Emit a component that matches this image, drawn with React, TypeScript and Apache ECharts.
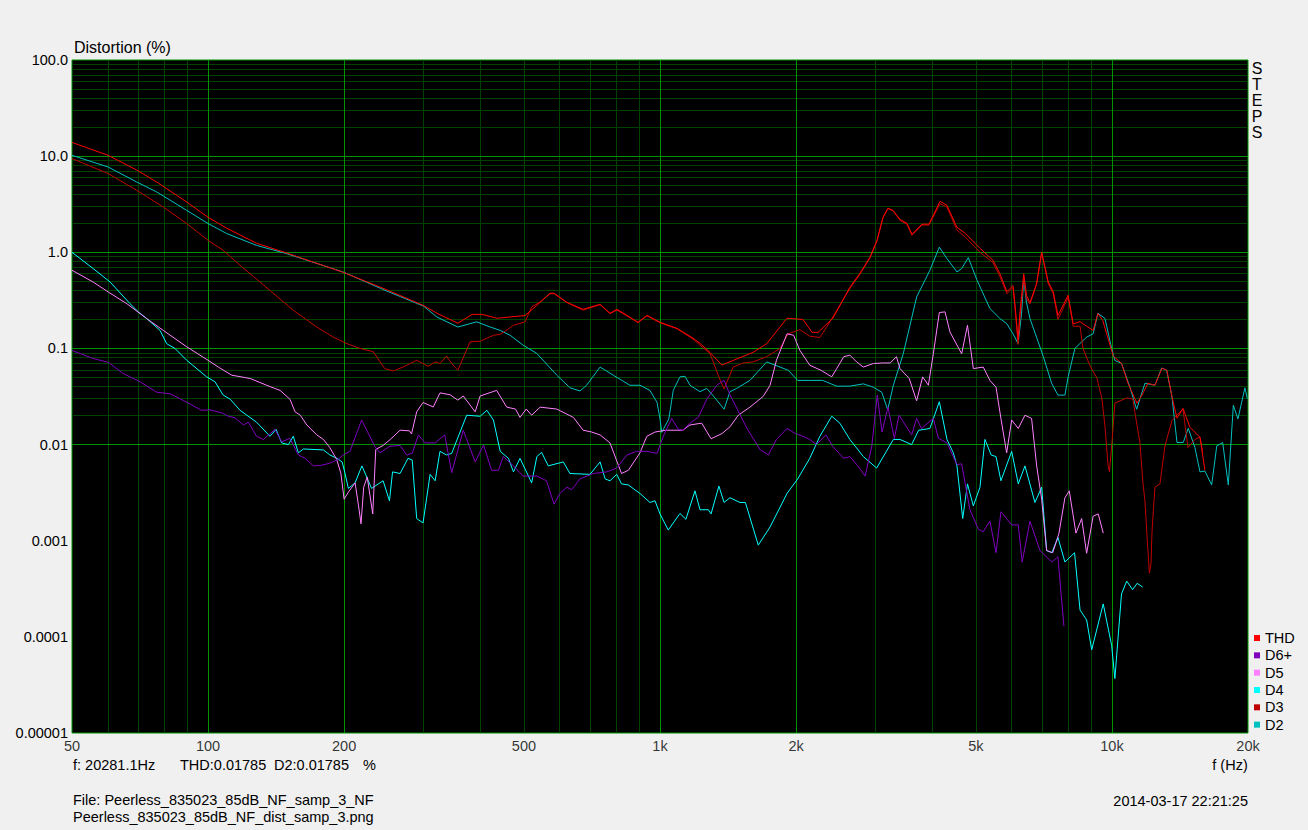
import React, { useEffect, useRef } from 'react';
import * as echarts from 'echarts';

type P = [number, number];

// ---------- data (frequency Hz, distortion %) ----------
const thd: P[] = [[50,13.9],[60.1,10.2],[69.7,7.13],[77.1,5.35],[89.9,3.31],[100,2.31],[110,1.78],[128,1.24],[150,0.976],[199,0.619],[244,0.422],[299,0.281],[321,0.232],[357,0.183],[384,0.226],[404,0.226],[436,0.206],[503,0.22],[534,0.281],[571,0.375],[583,0.375],[622,0.302],[676,0.255],[737,0.288],[775,0.232],[803,0.255],[845,0.221],[894,0.187],[936,0.221],[1000,0.187],[1090,0.162],[1183,0.128],[1226,0.113],[1290,0.091],[1371,0.067],[1451,0.075],[1606,0.091],[1722,0.112],[1910,0.206],[2072,0.2],[2170,0.147],[2237,0.147],[2413,0.206],[2631,0.433],[2770,0.605],[2914,0.887],[3020,1.33],[3114,2.31],[3195,2.87],[3277,2.73],[3396,2.2],[3520,2.0],[3610,1.54],[3798,1.96],[3936,1.96],[4166,3.39],[4315,3.08],[4540,1.82],[4730,1.58],[5105,1.1],[5455,0.826],[5650,0.6],[5855,0.39],[6040,0.45],[6100,0.29],[6200,0.123],[6255,0.232],[6380,0.6],[6470,0.357],[6585,0.3],[6810,0.47],[6990,1.0],[7110,0.7],[7230,0.49],[7415,0.39],[7595,0.22],[8000,0.357],[8210,0.18],[8500,0.19],[8790,0.17],[9085,0.154],[9310,0.23],[9540,0.196],[10070,0.083],[10500,0.07],[10850,0.0434],[11360,0.0269],[11650,0.0326],[12010,0.0434],[12450,0.0414],[12900,0.0621],[13230,0.0593],[13570,0.0318],[13930,0.0188],[14360,0.0238],[14880,0.0151],[15660,0.0119],[16060,0.0054]];

const d2: P[] = [[50,10.2],[60.1,7.71],[69.5,5.39],[77,4.24],[89.7,2.73],[100,1.99],[110,1.565],[128,1.18],[149,0.97],[199,0.624],[244,0.41],[300,0.275],[321,0.212],[357,0.167],[393,0.189],[421,0.167],[443,0.154],[466,0.137],[498,0.108],[534,0.0886],[591,0.0527],[632,0.039],[665,0.0361],[688,0.0414],[737,0.064],[788,0.0527],[858,0.0414],[903,0.0414],[950,0.0366],[985,0.0274],[1000,0.0185],[1009,0.0134],[1046,0.0185],[1070,0.0366],[1107,0.0506],[1136,0.0513],[1165,0.0414],[1226,0.0355],[1269,0.0384],[1323,0.0306],[1386,0.0233],[1428,0.0355],[1478,0.0384],[1581,0.0465],[1722,0.0724],[1843,0.064],[1922,0.0593],[2017,0.0465],[2145,0.0465],[2290,0.0465],[2460,0.0405],[2631,0.0405],[2818,0.0428],[2965,0.0395],[3095,0.035],[3190,0.023],[3283,0.0414],[3453,0.088],[3697,0.343],[3955,0.65],[4150,1.13],[4315,0.86],[4540,0.624],[4650,0.677],[4810,0.88],[5030,0.511],[5370,0.26],[5650,0.205],[5850,0.181],[6040,0.142],[6200,0.112],[6310,0.232],[6380,0.533],[6470,0.3],[6585,0.205],[7045,0.083],[7355,0.0434],[7595,0.0327],[7870,0.0327],[8000,0.0506],[8280,0.1],[8790,0.131],[9085,0.142],[9310,0.232],[9650,0.205],[9985,0.1],[10150,0.075],[10500,0.07],[10960,0.0394],[11340,0.0233],[11830,0.0434],[12450,0.0414],[12880,0.0626],[13210,0.0593],[13570,0.032],[13930,0.0105],[14380,0.0105],[14750,0.0148],[15260,0.0093],[15660,0.0052],[16060,0.0053],[16620,0.0038],[17060,0.0097],[17580,0.0105],[18090,0.0038],[18560,0.0256],[19000,0.0185],[19690,0.039],[19930,0.03]];

const d3: P[] = [[50,9.43],[60.1,6.59],[69.5,4.42],[79.6,2.96],[89.7,1.99],[100,1.33],[108,1.05],[117.7,0.732],[130.3,0.491],[154.4,0.249],[174,0.167],[189,0.1315],[203,0.112],[217,0.1],[232,0.0924],[246,0.0617],[257,0.0583],[270,0.064],[289.5,0.0753],[307,0.0652],[318,0.0724],[326,0.0697],[337,0.0834],[346,0.0697],[357,0.0593],[380,0.117],[400,0.119],[428,0.137],[443,0.14],[474,0.174],[503,0.189],[520,0.27],[543,0.305],[571,0.37],[583,0.37],[622,0.3],[676,0.25],[737,0.285],[775,0.23],[803,0.25],[845,0.218],[894,0.185],[936,0.218],[1000,0.185],[1090,0.16],[1183,0.125],[1226,0.108],[1290,0.0886],[1350,0.0505],[1386,0.038],[1452,0.064],[1527,0.0706],[1606,0.0724],[1722,0.082],[1843,0.1],[1922,0.142],[2040,0.157],[2145,0.134],[2258,0.13],[2376,0.189],[2631,0.42],[2770,0.59],[2914,0.87],[3020,1.3],[3114,2.28],[3195,2.85],[3277,2.7],[3396,2.15],[3520,1.95],[3610,1.5],[3798,1.92],[3936,1.92],[4166,3.2],[4315,2.95],[4540,1.7],[4730,1.45],[5105,1.0],[5455,0.78],[5650,0.56],[5855,0.37],[6040,0.43],[6100,0.27],[6200,0.11],[6255,0.2],[6380,0.55],[6470,0.33],[6585,0.29],[6810,0.46],[6990,0.98],[7110,0.68],[7230,0.47],[7415,0.37],[7595,0.2],[8000,0.34],[8210,0.17],[8500,0.17],[8630,0.1],[8940,0.066],[9265,0.049],[9503,0.03],[9650,0.0156],[9798,0.0063],[9873,0.0052],[10000,0.0105],[10150,0.027],[10790,0.0306],[11130,0.0296],[11240,0.0216],[11530,0.0105],[11710,0.004],[11830,0.0026],[12010,0.0008],[12100,0.00046],[12200,0.00057],[12260,0.0012],[12350,0.0021],[12450,0.0036],[12770,0.0039],[13100,0.0097],[13580,0.0178],[14360,0.0235],[14730,0.0093],[15260,0.0113],[15660,0.012],[15890,0.0082]];

const d4: P[] = [[50,1.0],[55.7,0.677],[60.7,0.491],[67.2,0.292],[70.1,0.24],[73.2,0.204],[78.3,0.154],[81,0.112],[84.5,0.1],[89.7,0.0753],[99.3,0.0506],[103.6,0.045],[108,0.0327],[112,0.0296],[117.7,0.0227],[128,0.0171],[137.1,0.0122],[141.4,0.0144],[145.5,0.0104],[150.6,0.01],[154.4,0.0122],[158.4,0.0082],[162.5,0.009],[180,0.0088],[186,0.0078],[192.7,0.0072],[198,0.0066],[201,0.005],[204.4,0.0035],[211.5,0.004],[219,0.006],[226.3,0.0042],[230,0.0035],[244,0.0042],[252,0.0026],[256,0.0052],[266,0.005],[277,0.0072],[283,0.0069],[289.5,0.0017],[299,0.00153],[310,0.0049],[318,0.0042],[326,0.0085],[337,0.0078],[346,0.0081],[373.5,0.0202],[400,0.0197],[414,0.0227],[428,0.018],[443,0.0085],[462,0.0072],[474,0.0052],[490,0.0072],[520,0.004],[534,0.0075],[547,0.0083],[566,0.006],[611,0.0066],[632,0.005],[700,0.0049],[737,0.0066],[756,0.0044],[775,0.0042],[802,0.0049],[822,0.0039],[851,0.0038],[903,0.0031],[950,0.0025],[975,0.0026],[1000,0.0019],[1043,0.00129],[1107,0.00192],[1141,0.00167],[1195,0.0033],[1226,0.0021],[1279,0.0021],[1297,0.0019],[1350,0.0037],[1386,0.0025],[1428,0.0028],[1503,0.0025],[1545,0.0025],[1650,0.0009],[1752,0.00139],[1910,0.0031],[2017,0.0044],[2145,0.0072],[2258,0.0122],[2399,0.0197],[2500,0.0167],[2631,0.0113],[2818,0.0075],[3015,0.0057],[3283,0.0113],[3396,0.0113],[3604,0.01],[3735,0.0141],[3955,0.0147],[4150,0.0279],[4315,0.0113],[4457,0.0082],[4540,0.006],[4675,0.0017],[4790,0.0039],[4935,0.0023],[5105,0.0036],[5236,0.0113],[5405,0.0078],[5540,0.0075],[5680,0.0042],[6000,0.0085],[6205,0.0039],[6420,0.006],[6755,0.0025],[6990,0.0036],[7170,0.00079],[7360,0.00075],[7595,0.00108],[7870,0.0006],[8265,0.00075],[8500,0.00019],[8790,0.00015],[9020,0.0000734],[9565,0.00022],[9985,0.0000814],[10150,0.0000368],[10320,0.0001],[10500,0.00028],[10780,0.00038],[11110,0.00031],[11370,0.00036],[11690,0.00033]];

const d5: P[] = [[50,0.65],[55.7,0.49],[60.1,0.387],[66.1,0.292],[73.2,0.204],[79.6,0.154],[89.7,0.104],[100,0.0753],[105.4,0.064],[112.8,0.0527],[123.9,0.0487],[134.8,0.0414],[144.3,0.0366],[151.8,0.0296],[155.8,0.0219],[160,0.0202],[165.4,0.016],[174,0.0126],[180,0.0113],[186,0.0093],[192.6,0.007],[196.8,0.005],[200,0.0027],[204.4,0.0032],[211.5,0.004],[215,0.0024],[218,0.0015],[221,0.0036],[225,0.0046],[231.4,0.0019],[235,0.0089],[244,0.0098],[253,0.0113],[266,0.0141],[279,0.0139],[282,0.0129],[289.5,0.0219],[299,0.0274],[315,0.0246],[326,0.0345],[343,0.033],[357,0.029],[367,0.032],[390,0.0219],[400,0.032],[435,0.0366],[458,0.0245],[479,0.0234],[490,0.0192],[506,0.0234],[520,0.0202],[543,0.0245],[591,0.0234],[643,0.0192],[676,0.0141],[706,0.0135],[737,0.0126],[775,0.0104],[822,0.005],[851,0.0054],[903,0.0082],[935,0.0122],[975,0.0135],[1030,0.0141],[1124,0.0141],[1165,0.016],[1237,0.0167],[1297,0.0115],[1371,0.013],[1428,0.0153],[1490,0.0202],[1581,0.0245],[1692,0.0317],[1752,0.0414],[1810,0.0753],[1910,0.142],[1975,0.137],[2040,0.0953],[2145,0.0668],[2270,0.0593],[2399,0.0506],[2460,0.0617],[2550,0.082],[2631,0.0852],[2723,0.0724],[2818,0.064],[2965,0.0697],[3114,0.0706],[3230,0.0706],[3335,0.082],[3396,0.0617],[3560,0.0487],[3697,0.0285],[3812,0.0506],[3925,0.0414],[4025,0.088],[4150,0.236],[4272,0.24],[4382,0.148],[4650,0.088],[4790,0.174],[4935,0.0617],[5190,0.064],[5370,0.0465],[5540,0.0395],[5680,0.0187],[5848,0.0082],[6000,0.018],[6205,0.0147],[6420,0.0202],[6640,0.0187],[6815,0.006],[6990,0.0027],[7170,0.00079],[7395,0.00075],[7630,0.00118],[7870,0.0028],[8045,0.0033],[8325,0.0012],[8570,0.0017],[8790,0.00074],[9085,0.0018],[9325,0.0019],[9565,0.0012]];

const d6: P[] = [[50,0.0953],[55.7,0.0785],[60.1,0.0718],[64.9,0.0548],[70.7,0.045],[77,0.035],[82.4,0.0338],[89.7,0.0276],[96.7,0.0227],[101,0.023],[107.2,0.0214],[110.9,0.0197],[114.7,0.019],[119.7,0.016],[122.8,0.0171],[128,0.0122],[132.6,0.0113],[140.6,0.0144],[145.5,0.0107],[151.8,0.0116],[158.4,0.0078],[163.8,0.0072],[171,0.006],[178.4,0.0061],[186,0.0064],[194,0.007],[199,0.0078],[206,0.0085],[218.7,0.018],[233.8,0.0096],[240,0.0082],[252.7,0.0096],[266,0.0098],[275,0.0078],[283,0.0081],[292,0.0126],[302,0.0104],[318,0.0104],[334,0.0126],[346,0.0051],[367,0.0141],[390,0.0066],[407,0.0099],[424,0.0054],[439,0.0054],[450,0.0075],[474,0.006],[498,0.0047],[534,0.0047],[561,0.0042],[583,0.0024],[600,0.0031],[622,0.0036],[638,0.0034],[665,0.0044],[712,0.005],[762,0.0052],[802,0.0057],[845,0.0078],[888,0.0085],[935,0.0085],[985,0.0081],[1017,0.0122],[1061,0.0187],[1098,0.0144],[1124,0.0141],[1165,0.0167],[1216,0.0193],[1269,0.0296],[1335,0.0414],[1386,0.0465],[1428,0.033],[1558,0.0147],[1667,0.0088],[1737,0.0078],[1810,0.0113],[1910,0.0147],[1995,0.013],[2072,0.0122],[2145,0.0113],[2217,0.01],[2330,0.0126],[2410,0.0096],[2550,0.0072],[2631,0.0075],[2740,0.006],[2843,0.0047],[2942,0.0096],[3025,0.0327],[3100,0.0135],[3195,0.0245],[3300,0.0116],[3380,0.0202],[3605,0.0126],[3697,0.0187],[3790,0.0147],[4025,0.0187],[4130,0.0116],[4315,0.0104],[4540,0.0062],[4650,0.0063],[4850,0.0021],[5065,0.00131],[5190,0.00124],[5370,0.0016],[5540,0.00075],[5680,0.002],[6000,0.00146],[6205,0.00146],[6330,0.0006],[6585,0.0016],[6930,0.00079],[7360,0.0006],[7595,0.00068],[7715,0.000284],[7830,0.000129]];

const xTickValues = [50, 100, 200, 500, 1000, 2000, 5000, 10000, 20000];
const xTickLabels = ['50', '100', '200', '500', '1k', '2k', '5k', '10k', '20k'];
const yTickLabels = ['0.00001', '0.0001', '0.001', '0.01', '0.1', '1.0', '10.0', '100.0'];
const xMajorLines = [100, 200, 1000, 2000, 10000];
const xMinorLines = [60, 70, 80, 90, 300, 400, 500, 600, 700, 800, 900, 3000, 4000, 5000, 6000, 7000, 8000, 9000];
const yDecades = [0.00001, 0.0001, 0.001, 0.01, 0.1, 1, 10];
const yMajorLines = [0.0001, 0.001, 0.01, 0.1, 1, 10];
const legendOrder = ['THD', 'D6+', 'D5', 'D4', 'D3', 'D2'];

const seriesDefs = [
  { name: 'D2', data: d2, color: '#00c0c0' },
  { name: 'D3', data: d3, color: '#c00000' },
  { name: 'D4', data: d4, color: '#00ffff' },
  { name: 'D5', data: d5, color: '#ff80ff' },
  { name: 'D6+', data: d6, color: '#8000c0' },
  { name: 'THD', data: thd, color: '#ff0000' },
];

const FONT = '"Liberation Sans", Arial, sans-serif';
const BRIGHT = '#009400';
const DIM = '#004200';
const FS = 14.5;

function buildOption(): any {
  const gridLines: any[] = [];
  for (const d of yDecades) {
    for (let k = 2; k <= 9; k++) gridLines.push({ yAxis: d * k, lineStyle: { color: DIM } });
  }
  for (const v of xMinorLines) gridLines.push({ xAxis: v, lineStyle: { color: DIM } });
  for (const v of yMajorLines) gridLines.push({ yAxis: v, lineStyle: { color: BRIGHT } });
  for (const v of xMajorLines) gridLines.push({ xAxis: v, lineStyle: { color: BRIGHT } });

  const txt = (text: string, x: number, y: number, align = 'left', size = FS) => ({
    type: 'text', x, y, silent: true,
    style: { text, fill: '#000', fontSize: size, fontFamily: FONT, align, textAlign: align, verticalAlign: 'middle', textVerticalAlign: 'middle' },
  });

  return {
    animation: false,
    backgroundColor: '#f0f0f0',
    textStyle: { fontFamily: FONT },
    grid: { left: 72, top: 60, width: 1176, height: 673, show: true, backgroundColor: '#000', borderColor: BRIGHT, borderWidth: 1, containLabel: false },
    xAxis: {
      type: 'log', logBase: 10, min: 50, max: 20000,
      axisLine: { show: false }, axisTick: { show: false }, axisLabel: { show: false }, splitLine: { show: false },
    },
    yAxis: {
      type: 'log', logBase: 10, min: 0.00001, max: 100,
      axisLine: { show: false }, axisTick: { show: false }, splitLine: { show: false },
      axisLabel: {
        margin: 4, color: '#000', fontSize: FS, fontFamily: FONT,
        formatter: (v: number) => yTickLabels[Math.round(Math.log10(v)) + 5] ?? '',
      },
    },
    legend: {
      data: legendOrder, orient: 'vertical', left: 1254, top: 630, padding: 0,
      icon: 'rect', itemWidth: 6, itemHeight: 6, itemGap: 1.33, selectedMode: false,
      textStyle: { color: '#000', fontSize: FS, lineHeight: 16, fontFamily: FONT },
    },
    graphic: [
      txt('Distortion (%)', 74, 47, 'left', 16),
      {
        type: 'text', x: 1257, y: 60, silent: true,
        style: { text: 'S\nT\nE\nP\nS', fill: '#000', fontSize: 16, lineHeight: 16, fontFamily: FONT, align: 'center', textAlign: 'center', verticalAlign: 'top', textVerticalAlign: 'top' },
      },
      txt('f: 20281.1Hz', 73, 765),
      txt('THD:0.01785', 180, 765),
      txt('D2:0.01785', 274, 765),
      txt('%', 363, 765),
      txt('f (Hz)', 1230, 765, 'center'),
      txt('File: Peerless_835023_85dB_NF_samp_3_NF', 73, 800),
      txt('Peerless_835023_85dB_NF_dist_samp_3.png', 73, 817),
      txt('2014-03-17 22:21:25', 1248, 801, 'right'),
    ],
    series: [
      {
        name: 'grid', type: 'line', data: [], silent: true, z: 1,
        markLine: {
          silent: true, z: 1, symbol: ['none', 'none'], animation: false,
          label: { show: false }, emphasis: { disabled: true },
          lineStyle: { type: 'solid', width: 1 },
          data: gridLines,
        },
      },
      ...seriesDefs.map((s) => ({
        name: s.name, type: 'line', data: s.data, z: 3,
        showSymbol: false, symbol: 'none', silent: true,
        color: s.color,
        itemStyle: { color: s.color },
        lineStyle: { color: s.color, width: 1 },
        emphasis: { disabled: true },
      })),
      {
        name: 'xticks', type: 'scatter', z: 4, silent: true, clip: false,
        data: xTickValues.map((v) => [v, 0.00001]),
        symbolSize: 1, itemStyle: { color: 'rgba(0,0,0,0)' },
        label: {
          show: true, position: 'bottom', distance: 5, color: '#000', fontSize: FS, fontFamily: FONT,
          formatter: (p: any) => xTickLabels[p.dataIndex],
        },
      },
    ],
  };
}

export default function App() {
  const ref = useRef<HTMLDivElement>(null);
  useEffect(() => {
    if (!ref.current) return;
    const chart = echarts.init(ref.current, null, { renderer: 'svg' });
    chart.setOption(buildOption());
    return () => chart.dispose();
  }, []);
  return <div ref={ref} style={{ position: 'absolute', left: 0, top: 0, width: 1308, height: 830 }} />;
}
